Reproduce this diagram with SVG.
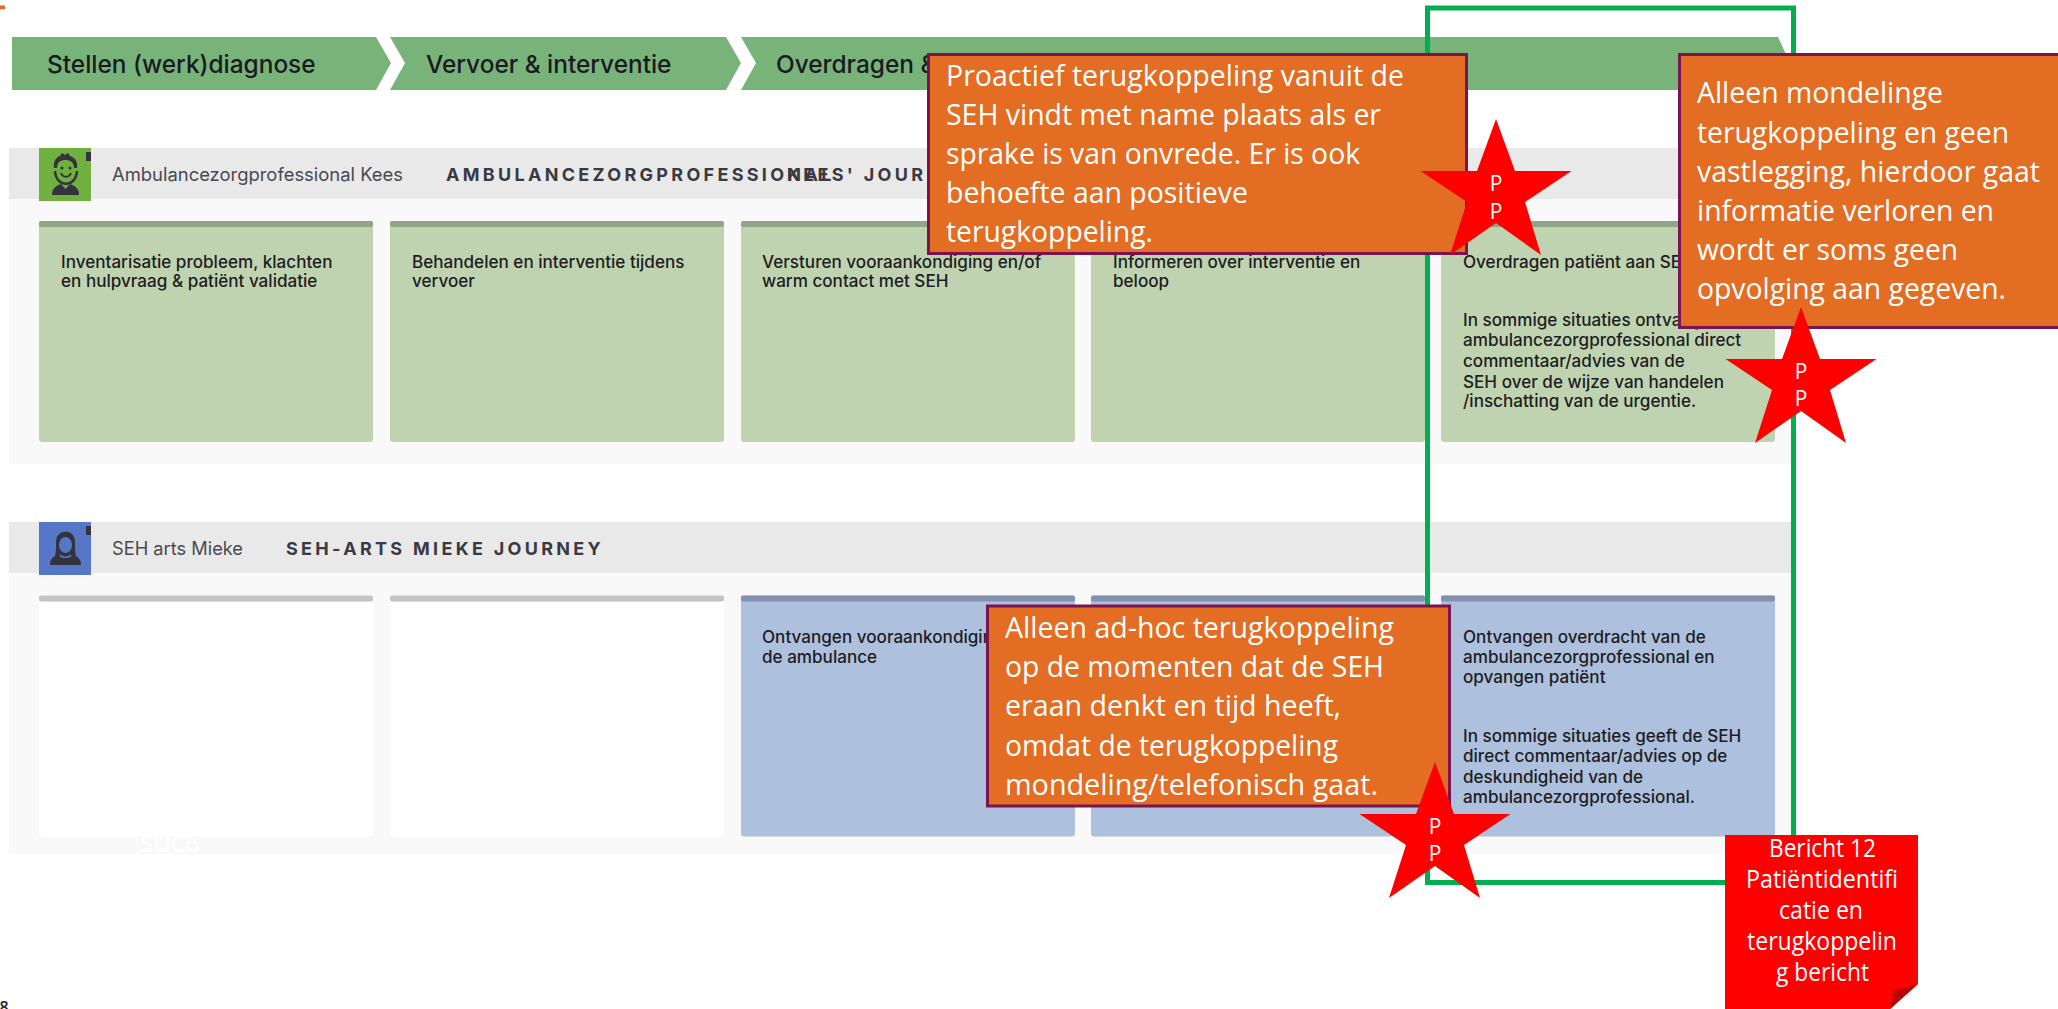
<svg xmlns="http://www.w3.org/2000/svg" width="2058" height="1009" viewBox="0 0 2058 1009">
<style>
.chev{fill:#78b47a}
.chevt{font:500 24.400px Inter,"Liberation Sans",sans-serif;fill:#1a1a22}
.band{fill:#e9e9e9}
.panel{fill:#f9f9f9}
.who{font:400 18.400px Inter,"Liberation Sans",sans-serif;fill:#4a4a52}
.ttl{font:700 18px Inter,"Liberation Sans",sans-serif;fill:#3a3a42;letter-spacing:3.300px}
.ct{font:500 17.100px Inter,"Liberation Sans",sans-serif;fill:#1d1d22}
.gc{fill:#c0d3b0}.gt{fill:#8fa488}
.bc{fill:#adc0de}.bt{fill:#8291ae}
.wc{fill:#fff}.wt{fill:#c4c4c4}
.ob{fill:#e26d23;stroke:#7a1450;stroke-width:3}
.ot{font:29.500px "Open Sans","Noto Sans",sans-serif;fill:#fff}
.st{fill:#f00}
.sp{font:21px "Open Sans","Noto Sans",sans-serif;fill:#fff;text-anchor:middle}
.rt{font:25px "Open Sans","Noto Sans",sans-serif;fill:#fff}
.av{fill:#33333d}
</style>
<defs>
<path id="star" d="M0 0L19 52H75.500L29 83L45 136L0 104L-46 136L-29 83L-75.500 52H-19Z"/>
</defs>
<rect width="2058" height="1009" fill="#fff"/>
<rect x="0" y="5.500" width="5" height="3.800" fill="#e26d23"/>
<g id="chevrons">
<g id="step-1"><path class="chev" d="M12 37H376L391 63L376 90H12Z"/><text class="chevt" x="47" y="73">Stellen (werk)diagnose</text></g>
<g id="step-2"><path class="chev" d="M390 37H726L741 63L726 90H390L405 63Z"/><text class="chevt" x="426" y="73">Vervoer &amp; interventie</text></g>
<g id="step-3"><path class="chev" d="M741 37H1778L1790 63L1778 90H741L756 63Z"/><text class="chevt" x="776" y="73">Overdragen &amp;</text></g>
</g>
<g id="lane-ambulance">
<rect class="panel" x="9" y="199" width="1785" height="265"/>
<rect class="band" x="9" y="148" width="1785" height="51"/>
<g id="avatar-kees">
<rect x="39" y="148" width="52" height="53" fill="#6fb03e"/>
<rect x="86" y="152" width="5" height="9" class="av"/>
<path class="av" d="M54 168C53 160 57 157 60 156L62 153L65 155L68 153L70 156C75 158 78 161 77 168L74 168C74 162 70 160 65.500 160C61 160 57 162 57 168Z"/>
<circle class="av" cx="62" cy="168" r="1.500"/><circle class="av" cx="70" cy="168" r="1.500"/>
<path d="M55 171C56 188 76 188 77 171" fill="none" stroke="#33333d" stroke-width="2.500"/>
<path d="M61 173C63 178 69 178 71 173" fill="none" stroke="#33333d" stroke-width="2"/>
<path class="av" d="M52 195C52 188 56 186 61 184L65.500 189L70 184C75 186 79 188 79 195Z"/>
</g>
<text class="who" x="112" y="181" textLength="291" lengthAdjust="spacingAndGlyphs">Ambulancezorgprofessional Kees</text>
<text class="ttl" x="446" y="181">AMBULANCEZORGPROFESSIONAL</text>
<text class="ttl" x="787" y="181">KEES' JOURNEY</text>
<g id="a1"><rect class="gc" x="39" y="221" width="334" height="221" rx="3"/><rect class="gt" x="39" y="221" width="334" height="6" rx="2"/><text class="ct" x="61" y="268">Inventarisatie probleem, klachten</text><text class="ct" x="61" y="287">en hulpvraag &amp; patiënt validatie</text></g>
<g id="a2"><rect class="gc" x="390" y="221" width="334" height="221" rx="3"/><rect class="gt" x="390" y="221" width="334" height="6" rx="2"/><text class="ct" x="412" y="268">Behandelen en interventie tijdens</text><text class="ct" x="412" y="287">vervoer</text></g>
<g id="a3"><rect class="gc" x="741" y="221" width="334" height="221" rx="3"/><rect class="gt" x="741" y="221" width="334" height="6" rx="2"/><text class="ct" x="762" y="268">Versturen vooraankondiging en/of</text><text class="ct" x="762" y="287">warm contact met SEH</text></g>
<g id="a4"><rect class="gc" x="1091" y="221" width="334" height="221" rx="3"/><rect class="gt" x="1091" y="221" width="334" height="6" rx="2"/><text class="ct" x="1113" y="268">Informeren over interventie en</text><text class="ct" x="1113" y="287">beloop</text></g>
<g id="a5"><rect class="gc" x="1441" y="221" width="334" height="221" rx="3"/><rect class="gt" x="1441" y="221" width="334" height="6" rx="2"/><text class="ct" x="1463" y="268">Overdragen patiënt aan SEH</text><text class="ct" x="1463" y="326">In sommige situaties ontvangt de</text><text class="ct" x="1463" y="346">ambulancezorgprofessional direct</text><text class="ct" x="1463" y="367">commentaar/advies van de</text><text class="ct" x="1463" y="388">SEH over de wijze van handelen</text><text class="ct" x="1463" y="407">/inschatting van de urgentie.</text></g>
</g>
<g id="lane-seh">
<rect class="panel" x="9" y="573" width="1785" height="281"/>
<rect class="band" x="9" y="522" width="1785" height="51"/>
<g id="avatar-mieke">
<rect x="39" y="522" width="52" height="53" fill="#5676c8"/>
<rect x="86" y="526" width="5" height="9" class="av"/>
<path class="av" d="M55 556C57 549 55 541 57 537C60 530 71 530 74 537C76 541 74 549 76 556C79 558 81 560 81 565H50C50 560 52 558 55 556Z"/>
<ellipse cx="65.500" cy="545" rx="6.500" ry="8" fill="#5676c8"/>
<path d="M60 555C62 558 69 558 71 555" fill="none" stroke="#5676c8" stroke-width="1.500"/>
</g>
<text class="who" x="112" y="555" textLength="131" lengthAdjust="spacingAndGlyphs">SEH arts Mieke</text>
<text class="ttl" x="286" y="555">SEH-ARTS MIEKE JOURNEY</text>
<g id="s1"><rect class="wc" x="39" y="595.500" width="334" height="241" rx="3"/><rect class="wt" x="39" y="595.500" width="334" height="6" rx="2"/></g>
<g id="s2"><rect class="wc" x="390" y="595.500" width="334" height="241" rx="3"/><rect class="wt" x="390" y="595.500" width="334" height="6" rx="2"/></g>
<g id="s3"><rect class="bc" x="741" y="595.500" width="334" height="241" rx="3"/><rect class="bt" x="741" y="595.500" width="334" height="6" rx="2"/><text class="ct" x="762" y="643">Ontvangen vooraankondiging van</text><text class="ct" x="762" y="663">de ambulance</text></g>
<g id="s4"><rect class="bc" x="1091" y="595.500" width="334" height="241" rx="3"/><rect class="bt" x="1091" y="595.500" width="334" height="6" rx="2"/></g>
<g id="s5"><rect class="bc" x="1441" y="595.500" width="334" height="241" rx="3"/><rect class="bt" x="1441" y="595.500" width="334" height="6" rx="2"/><text class="ct" x="1463" y="643">Ontvangen overdracht van de</text><text class="ct" x="1463" y="663">ambulancezorgprofessional en</text><text class="ct" x="1463" y="683">opvangen patiënt</text><text class="ct" x="1463" y="742">In sommige situaties geeft de SEH</text><text class="ct" x="1463" y="762">direct commentaar/advies op de</text><text class="ct" x="1463" y="783">deskundigheid van de</text><text class="ct" x="1463" y="803">ambulancezorgprofessional.</text></g>
<text x="140" y="852" font-family="Open Sans, sans-serif" font-size="24" fill="#fff">SUC6</text>
</g>
<rect id="frame" x="1427.500" y="8" width="366" height="874.500" fill="none" stroke="#00b050" stroke-width="5"/>
<g id="note-1"><rect class="ob" x="928.500" y="54.500" width="538" height="199"/>
<text class="ot" x="946" y="86" textLength="458" lengthAdjust="spacingAndGlyphs">Proactief terugkoppeling vanuit de</text>
<text class="ot" x="946" y="125" textLength="435" lengthAdjust="spacingAndGlyphs">SEH vindt met name plaats als er</text>
<text class="ot" x="946" y="164" textLength="414" lengthAdjust="spacingAndGlyphs">sprake is van onvrede. Er is ook</text>
<text class="ot" x="946" y="203" textLength="302" lengthAdjust="spacingAndGlyphs">behoefte aan positieve</text>
<text class="ot" x="946" y="242" textLength="207" lengthAdjust="spacingAndGlyphs">terugkoppeling.</text></g>
<g id="note-2"><rect class="ob" x="1679.500" y="54.500" width="380" height="273"/>
<text class="ot" x="1697" y="103" textLength="246" lengthAdjust="spacingAndGlyphs">Alleen mondelinge</text>
<text class="ot" x="1697" y="143" textLength="312" lengthAdjust="spacingAndGlyphs">terugkoppeling en geen</text>
<text class="ot" x="1697" y="182" textLength="343" lengthAdjust="spacingAndGlyphs">vastlegging, hierdoor gaat</text>
<text class="ot" x="1697" y="221" textLength="297" lengthAdjust="spacingAndGlyphs">informatie verloren en</text>
<text class="ot" x="1697" y="260" textLength="261" lengthAdjust="spacingAndGlyphs">wordt er soms geen</text>
<text class="ot" x="1697" y="299" textLength="309" lengthAdjust="spacingAndGlyphs">opvolging aan gegeven.</text></g>
<g id="note-3"><rect class="ob" x="987.500" y="606" width="462" height="200"/>
<text class="ot" x="1005" y="638" textLength="389" lengthAdjust="spacingAndGlyphs">Alleen ad-hoc terugkoppeling</text>
<text class="ot" x="1005" y="677" textLength="379" lengthAdjust="spacingAndGlyphs">op de momenten dat de SEH</text>
<text class="ot" x="1005" y="716" textLength="336" lengthAdjust="spacingAndGlyphs">eraan denkt en tijd heeft,</text>
<text class="ot" x="1005" y="756" textLength="333" lengthAdjust="spacingAndGlyphs">omdat de terugkoppeling</text>
<text class="ot" x="1005" y="795" textLength="373" lengthAdjust="spacingAndGlyphs">mondeling/telefonisch gaat.</text></g>
<g id="star-1"><use href="#star" class="st" transform="translate(1496 119)"/><text class="sp" x="1496" y="191">P</text><text class="sp" x="1496" y="219">P</text></g>
<g id="star-2"><use href="#star" class="st" transform="translate(1801 307)"/><text class="sp" x="1801" y="379">P</text><text class="sp" x="1801" y="406">P</text></g>
<g id="star-3"><use href="#star" class="st" transform="translate(1435 762)"/><text class="sp" x="1435" y="834">P</text><text class="sp" x="1435" y="861">P</text></g>
<g id="message-12">
<path class="st" d="M1725 835H1918V984L1890 1009H1725Z"/>
<path d="M1918 984L1894 991L1890 1009Z" fill="#b80000"/>
<text class="rt" x="1769" y="857" textLength="107" lengthAdjust="spacingAndGlyphs">Bericht 12</text>
<text class="rt" x="1746" y="888" textLength="152" lengthAdjust="spacingAndGlyphs">Patiëntidentifi</text>
<text class="rt" x="1779" y="919" textLength="84" lengthAdjust="spacingAndGlyphs">catie en</text>
<text class="rt" x="1747" y="950" textLength="150" lengthAdjust="spacingAndGlyphs">terugkoppelin</text>
<text class="rt" x="1776" y="981" textLength="93" lengthAdjust="spacingAndGlyphs">g bericht</text>
</g>
<text x="-0.500" y="1012.500" font-family="Open Sans, sans-serif" font-size="16" font-weight="600" fill="#222">8</text>
</svg>
